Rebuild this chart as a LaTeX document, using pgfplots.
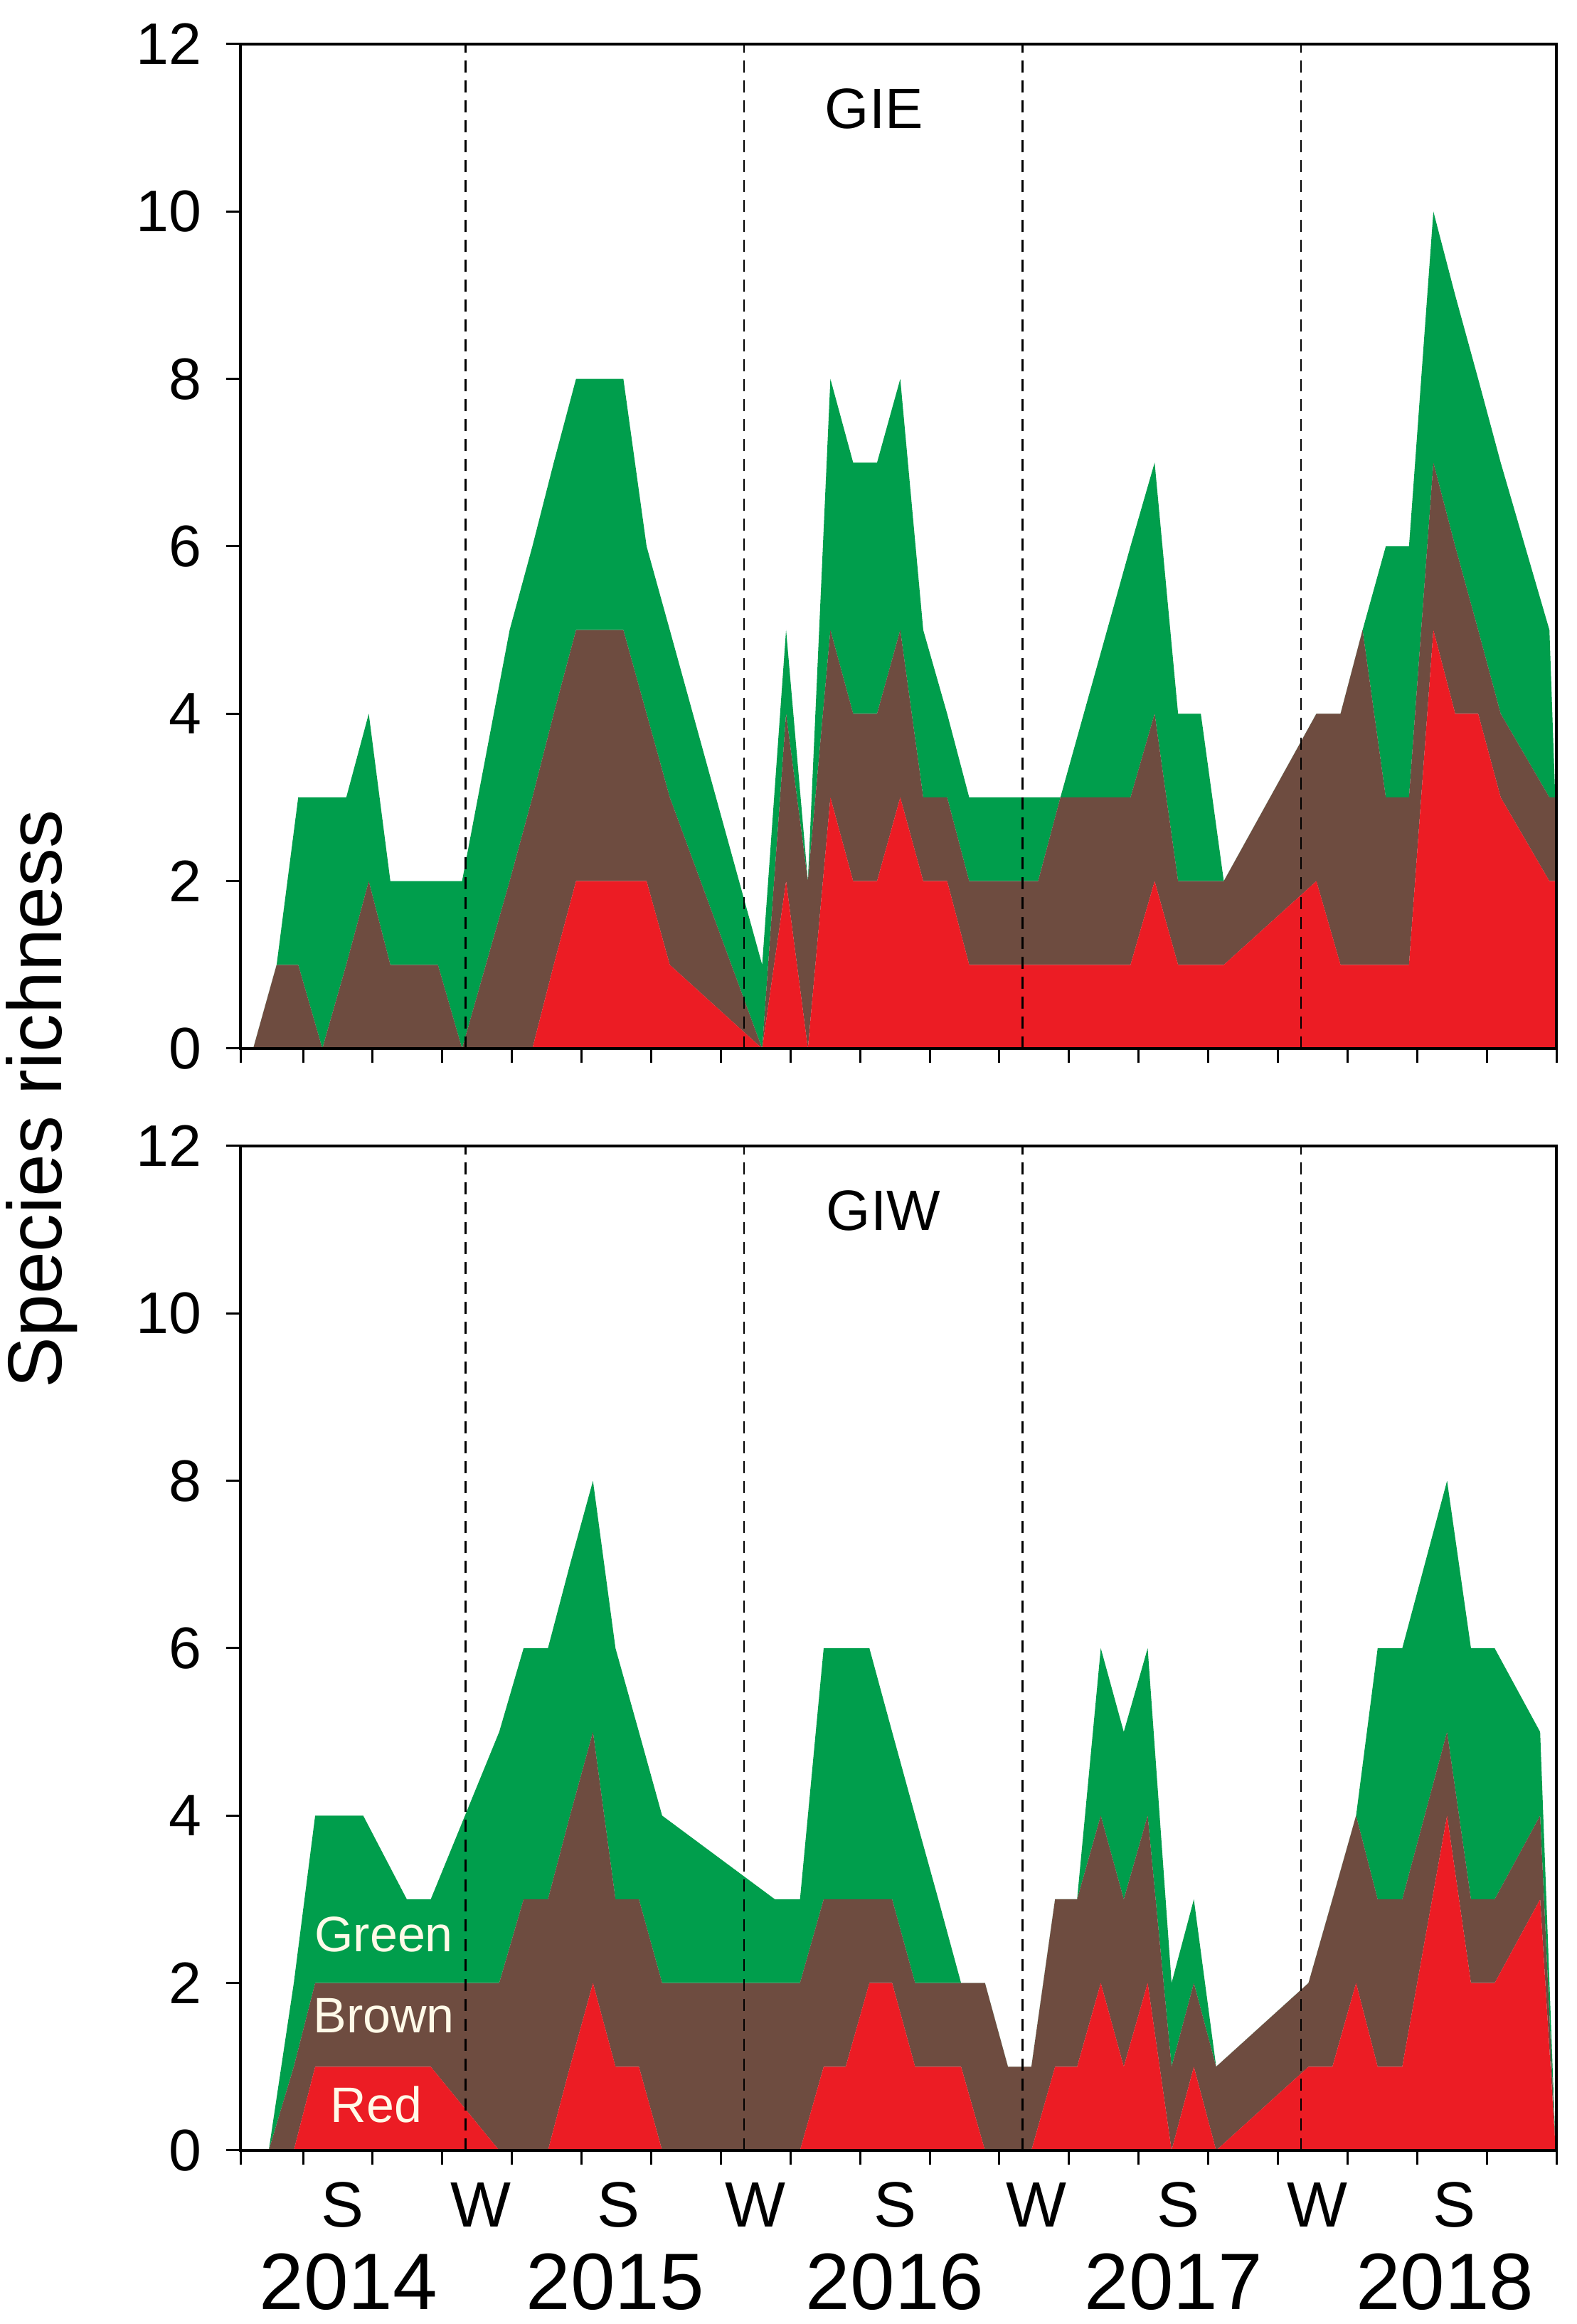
\documentclass[border=0pt]{standalone}
\usepackage{fontspec}
\setmainfont{Liberation Sans}
\usepackage{pgfplots}
\usepackage{pgfplotstable}
\pgfplotsset{compat=1.18}

\definecolor{cgreen}{RGB}{0,158,76}
\definecolor{cbrown}{RGB}{110,76,64}
\definecolor{cred}{RGB}{236,28,36}
\definecolor{ctext}{RGB}{255,250,232}

% GIE: month index (0 = Jan 2014), red, brown, green
\pgfplotstableread{
m r b g
2.85 0 0 0
3.86 0 1 0
4.79 0 1 2
5.83 0 0 3
6.86 0 1 2
7.83 0 2 2
8.76 0 1 1
9.80 0 1 1
10.81 0 1 1
11.85 0 0 2
13.90 0 2 3
14.88 0 3 3
15.80 1 3 3
16.76 2 3 3
17.80 2 3 3
18.80 2 3 3
19.80 2 2 2
20.80 1 2 2
24.78 0 0 1
25.81 2 2 1
26.75 0 2 0
27.72 3 2 3
28.70 2 2 3
29.73 2 2 3
30.73 3 2 3
31.72 2 1 2
32.75 2 1 1
33.70 1 1 1
36.67 1 1 1
37.63 1 2 0
40.65 1 2 3
41.69 2 2 3
42.70 1 1 2
43.68 1 1 2
44.67 1 1 0
48.66 2 2 0
49.70 1 3 0
50.65 1 4 0
51.65 1 2 3
52.65 1 2 3
53.70 5 2 3
54.64 4 2 3
55.63 4 1 3
56.60 3 1 3
58.70 2 1 2
58.95 2 1 0
}\gie

% GIW
\pgfplotstableread{
m r b g
3.52 0 0 0
4.60 0 1 1
5.52 1 1 2
7.59 1 1 2
9.47 1 1 1
10.50 1 1 1
13.45 0 2 3
14.50 0 3 3
15.55 0 3 3
16.50 1 3 3
17.49 2 3 3
18.46 1 2 3
19.47 1 2 2
20.47 0 2 2
25.33 0 2 1
26.41 0 2 1
27.43 1 2 3
28.38 1 2 3
29.40 2 1 3
30.38 2 1 2
31.37 1 1 2
32.37 1 1 1
33.35 1 1 0
34.38 0 2 0
35.37 0 1 0
36.38 0 1 0
37.40 1 2 0
38.35 1 2 0
39.37 2 2 2
40.36 1 2 2
41.39 2 2 2
42.42 0 1 1
43.38 1 1 1
44.34 0 1 0
48.32 1 1 0
49.35 1 2 0
50.37 2 2 0
51.30 1 2 3
52.36 1 2 3
54.29 4 1 3
55.32 2 1 3
56.34 2 1 3
58.30 3 1 1
58.97 0 0 0
}\giw

\pgfplotsset{
  panel/.style={
    scale only axis, width=370pt, height=282.4pt,
    anchor=south west,
    xmin=2.3, xmax=59, ymin=0, ymax=12,
    ytick={0,2,...,12},
    xtick={2.3,5,8,...,59}, xticklabels={},
    xtick pos=lower, ytick pos=left,
    tick align=outside, major tick length=4pt,
    tick style={black, line width=0.6pt},
    axis line style={black, line width=0.75pt},
    ticklabel style={font=\fontsize{16.5}{16.5}\selectfont},
    yticklabel style={xshift=-3.4pt},
    /pgf/number format/assume math mode=true,
    extra x ticks={12,24,36,48}, extra x tick labels={},
    extra x tick style={grid=major, major tick length=0pt,
      major grid style={black, line width=0.55pt, dash pattern=on 3.4pt off 2.2pt}},
    axis on top, stack plots=y, clip=false,
  },
}
\tikzset{
  sw/.style={anchor=base, font=\fontsize{18}{18}\selectfont},
  yr/.style={anchor=base, font=\fontsize{22.5}{22.5}\selectfont},
  lab/.style={font=\fontsize{14}{14}\selectfont, text=ctext},
}

\begin{document}
\begin{tikzpicture}
\useasboundingbox (0,0) rectangle (443.4pt,653.4pt);

\begin{axis}[panel, at={(67.6pt,358.6pt)}]
  \addplot[fill=cred, draw=none] table[x=m, y=r] {\gie} \closedcycle;
  \addplot[fill=cbrown, draw=none] table[x=m, y=b] {\gie} \closedcycle;
  \addplot[fill=cgreen, draw=none] table[x=m, y=g] {\gie} \closedcycle;
  \coordinate (gie) at (axis cs:29.6,11.23);
\end{axis}

\begin{axis}[panel, at={(67.6pt,48.8pt)}]
  \addplot[fill=cred, draw=none] table[x=m, y=r] {\giw} \closedcycle;
  \addplot[fill=cbrown, draw=none] table[x=m, y=b] {\giw} \closedcycle;
  \addplot[fill=cgreen, draw=none] table[x=m, y=g] {\giw} \closedcycle;
  \coordinate (giw) at (axis cs:30.0,11.23);
  \coordinate (lg) at (axis cs:8.48,2.58);
  \coordinate (lb) at (axis cs:8.48,1.61);
  \coordinate (lr) at (axis cs:8.15,0.55);
  \coordinate (s1) at (axis cs:6.7,-0.91);
  \coordinate (s2) at (axis cs:18.6,-0.91);
  \coordinate (s3) at (axis cs:30.5,-0.91);
  \coordinate (s4) at (axis cs:42.7,-0.91);
  \coordinate (s5) at (axis cs:54.6,-0.91);
  \coordinate (w1) at (axis cs:12.67,-0.91);
  \coordinate (w2) at (axis cs:24.5,-0.91);
  \coordinate (w3) at (axis cs:36.6,-0.91);
  \coordinate (w4) at (axis cs:48.7,-0.91);
  \coordinate (y1) at (axis cs:6.95,-1.90);
  \coordinate (y2) at (axis cs:18.45,-1.90);
  \coordinate (y3) at (axis cs:30.5,-1.90);
  \coordinate (y4) at (axis cs:42.5,-1.90);
  \coordinate (y5) at (axis cs:54.2,-1.90);
\end{axis}

\node[font=\fontsize{16}{16}\selectfont] at (gie) {GIE};
\node[font=\fontsize{16}{16}\selectfont] at (giw) {GIW};
\node[lab] at (lg) {Green};
\node[lab] at (lb) {Brown};
\node[lab] at (lr) {Red};
\node[sw] at (s1) {S};
\node[sw] at (s2) {S};
\node[sw] at (s3) {S};
\node[sw] at (s4) {S};
\node[sw] at (s5) {S};
\node[sw] at (w1) {W};
\node[sw] at (w2) {W};
\node[sw] at (w3) {W};
\node[sw] at (w4) {W};
\node[yr] at (y1) {2014};
\node[yr] at (y2) {2015};
\node[yr] at (y3) {2016};
\node[yr] at (y4) {2017};
\node[yr] at (y5) {2018};

\node[rotate=90, font=\fontsize{21.5}{21.5}\selectfont] at (11.8pt,344.4pt) {Species richness};
\end{tikzpicture}
\end{document}
